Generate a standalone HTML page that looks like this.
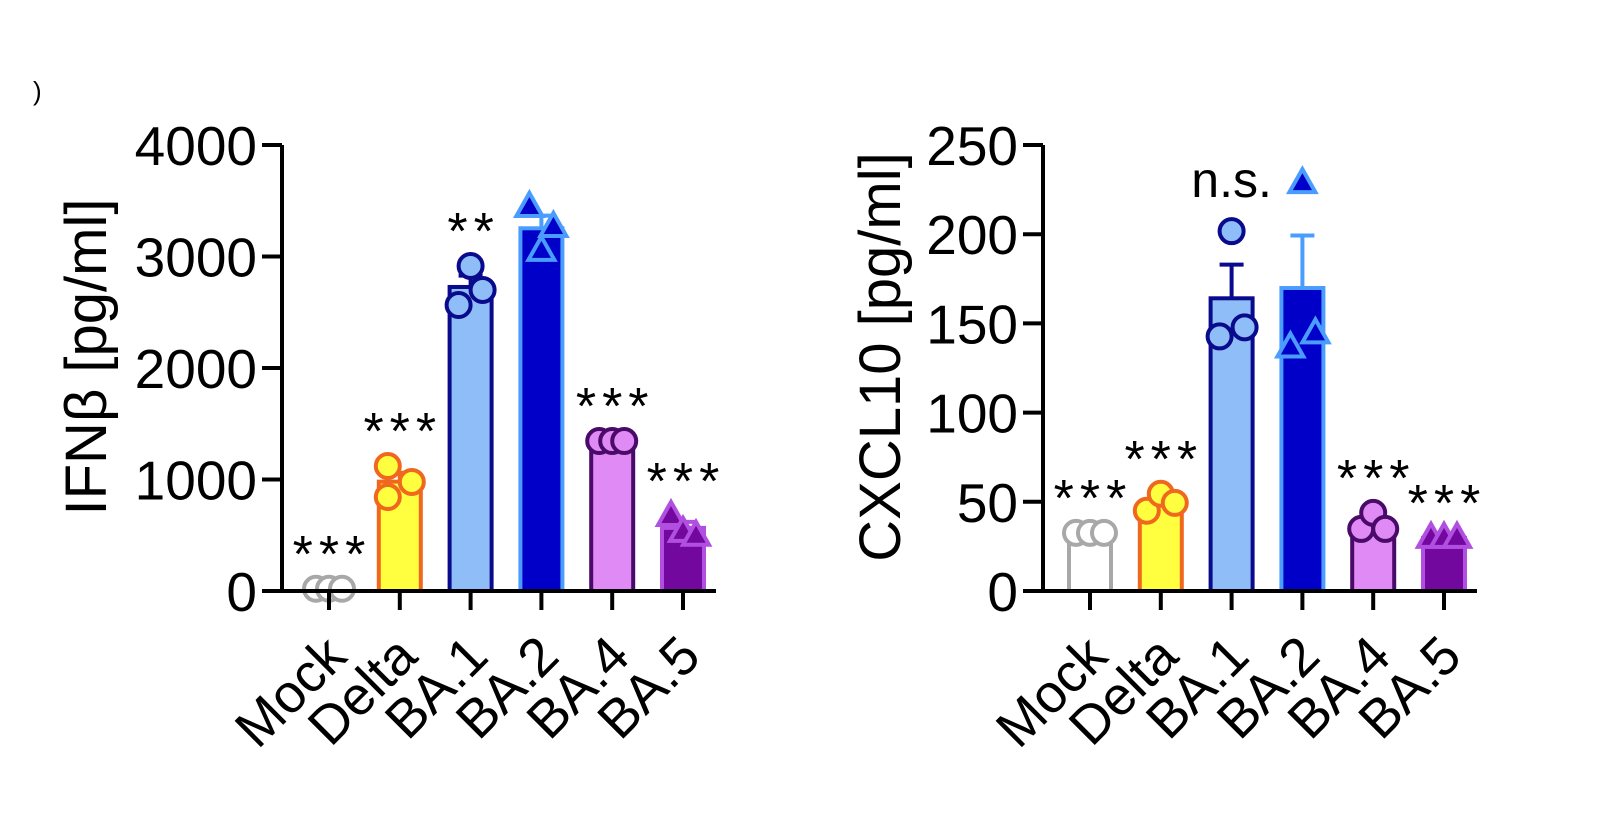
<!DOCTYPE html>
<html><head><meta charset="utf-8"><style>
html,body{margin:0;padding:0;background:#fff;}
svg{display:block;font-family:"Liberation Sans",Arial,sans-serif;}
</style></head><body>
<svg id="fig" width="1600" height="828" viewBox="0 0 1600 828">
<text x="33" y="100" font-size="26">)</text>
</svg>
<script>
const categories = ["Mock","Delta","BA.1","BA.2","BA.4","BA.5"];
const ifnPoints = [[20,20,20],[1121,978,843],[2915,2700,2565],[3444,3265,3050],[1345,1345,1345],[673,530,495]];
const ifnTicks = [0,1000,2000,3000,4000];
const ifnSig = ["***","***","**","","***","***"];
const cxPoints = [[32.6,32.6,32.6],[45,54.5,49.4],[201.7,142.7,147.8],[228.6,136.5,144.4],[34.8,43.8,34.8],[29.8,29.8,29.8]];
const cxTicks = [0,50,100,150,200,250];
const cxSig = ["***","***","n.s.","","***","***"];

const ifnJitter = [[-13,0,13],[-12,12,-12],[0,12,-12],[-12,12,0],[-13,0,12],[-12,0,13]];
const cxJitter = [[-14,0,14],[-14,0,14],[0,-12,13],[0,-12,13],[-12,0,12],[-13,0,13]];
const fills = ["#ffffff","#ffff40","#8fbdf8","#0000c8","#e08af5","#72089e"];
const strokes = ["#a8a8a8","#f0671e","#0a0a8c","#4a9dff","#4a0a68","#b150e0"];
const shapes = ["c","c","c","t","c","t"];
const NS="http://www.w3.org/2000/svg";
const svg=document.getElementById('fig');
function mk(tag,attrs,parent){const e=document.createElementNS(NS,tag);for(const k in attrs)e.setAttribute(k,attrs[k]);(parent||svg).appendChild(e);return e;}

function panel(ax,pts,jit,ticks,sig,title,titleX,name){
  const y0=591, yTop=145, maxV=ticks[ticks.length-1];
  const yS=v=>y0-(v/maxV)*(y0-yTop);
  const xS=i=>ax+47+i*70.8;
  const g=mk('g',{});
  
  
  pts.forEach((p,i)=>{
    const m=p.reduce((a,b)=>a+b,0)/p.length;
    const sd=Math.sqrt(p.reduce((a,b)=>a+(b-m)*(b-m),0)/(p.length-1));
    const sem=sd/Math.sqrt(p.length);
    const x=xS(i), top=yS(m);
    const r=mk('rect',{x:x-21,y:top,width:42,height:y0-top,fill:fills[i],stroke:strokes[i],'stroke-width':4},g);
    
    
    const ey=yS(m+sem);
    const e=mk('path',{d:`M${x},${top} V${ey} M${x-12},${ey} H${x+12}`,stroke:strokes[i],'stroke-width':4,fill:'none'},g);
    
    
  });
  let tops=[];
  pts.forEach((p,i)=>{
    let minY=1e9;
    p.forEach((v,j)=>{
      const x=xS(i)+jit[i][j], y=yS(v);
      let el;
      if(shapes[i]==='c'){el=mk('circle',{cx:x,cy:y,r:12,fill:fills[i],stroke:strokes[i],'stroke-width':4},g);}
      else{el=mk('path',{d:`M${x},${y-14} L${x+13},${y+9} L${x-13},${y+9} Z`,fill:fills[i],stroke:strokes[i],'stroke-width':4},g);}
      
      
      minY=Math.min(minY,y-13);
    });
    tops.push(minY);
  });
  const a=mk('path',{d:`M${ax},${yTop} V${y0+2} M${ax-20},${y0} H${ax+434}`,stroke:'#000','stroke-width':4,fill:'none'},g);
  
  
  ticks.forEach(t=>{
    const y=yS(t);
    const tk=mk('line',{x1:ax-20,x2:ax,y1:y,y2:y,stroke:'#000','stroke-width':4},g);
    
    
    const tl=mk('text',{x:ax-25,y:y+20,'font-size':55,'text-anchor':'end'},g);
    tl.textContent=t;
    
    
  });
  categories.forEach((c,i)=>{
    const x=xS(i);
    const tk=mk('line',{x1:x,x2:x,y1:y0,y2:y0+19,stroke:'#000','stroke-width':4},g);
    
    
    const tl=mk('text',{x:x+20,y:y0+68,'font-size':54,'text-anchor':'end',transform:`rotate(-45 ${x+20} ${y0+68})`},g);
    tl.textContent=c;
    
    
  });
  sig.forEach((s,i)=>{
    if(!s)return;
    const ns=s==='n.s.';
    const t=mk('text',{x:ns?xS(i):xS(i)+3,y:ns?197:tops[i]-4,'font-size':ns?50:52,'text-anchor':'middle','letter-spacing':ns?0:6},g);
    t.textContent=s;
    
    
  });
  const tt=mk('text',{x:titleX,y:357,'font-size':58,'text-anchor':'middle',transform:`rotate(-90 ${titleX} 357)`},g);
  tt.textContent=title;
  
  
}
panel(282,ifnPoints,ifnJitter,ifnTicks,ifnSig,"IFNβ [pg/ml]",106,'ifnb-chart');
panel(1043,cxPoints,cxJitter,cxTicks,cxSig,"CXCL10 [pg/ml]",900,'cxcl10-chart');
</script>
</body></html>
